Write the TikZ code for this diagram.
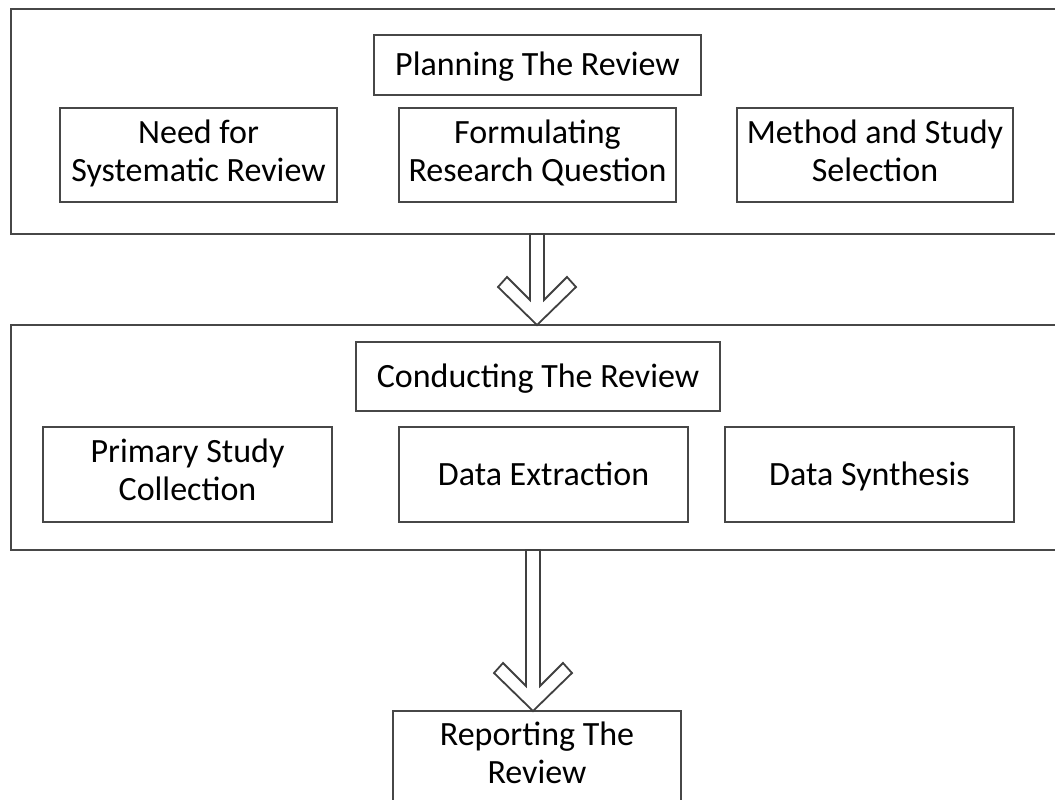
\documentclass[tikz,border=0pt]{standalone}
\usepackage{fontspec}
\setmainfont{Carlito}
\usetikzlibrary{calc}

% fixed line height and depth so capitals sit centred in every box
\newcommand\toprule{\rule{0pt}{30pt}}
\newcommand\botrule{\rule[-9pt]{0pt}{9pt}}

\tikzset{
  frame/.style={draw=black!72, line width=2.4pt, inner sep=0pt, outer sep=0pt},
  stagebox/.style={frame, fill=white, align=center, inner sep=0pt,
    font=\fontsize{34}{38}\selectfont,
    execute at begin node=\toprule, execute at end node=\botrule},
  arrowline/.style={draw=black!75, line width=1.8pt, fill=white, line join=miter},
}

% hollow block arrow from the bottom of #1 down to the top of #2, centred at x = #3
\newcommand\blockarrow[3]{%
  \path[arrowline] let \p1=(#1), \p2=(#2) in
    (#3pt-7pt,\y1) -- (#3pt+7pt,\y1) -- (#3pt+7pt,\y2+25pt)
    -- (#3pt+30pt,\y2+48pt) -- (#3pt+39pt,\y2+38pt) -- (#3pt,\y2)
    -- (#3pt-39pt,\y2+38pt) -- (#3pt-30pt,\y2+48pt) -- (#3pt-7pt,\y2+25pt) -- cycle;}

\begin{document}
\begin{tikzpicture}[x=1pt,y=-1pt]
  \useasboundingbox (0,0) rectangle (1055,800);
  \clip (0,0) rectangle (1055,800);

  % planning stage
  \node[frame, minimum width=1054, minimum height=225] (plan) at (538,121.5) {};
  \node[stagebox, minimum width=327, minimum height=60] (planhead) at (537.5,65) {Planning The Review};
  \node[stagebox, minimum width=277, minimum height=94] (need) at (198.5,155) {Need for\\Systematic Review};
  \node[stagebox, minimum width=277, minimum height=94] (formulate) at (537.5,155) {Formulating\\Research Question};
  \node[stagebox, minimum width=276, minimum height=94] (method) at (875,155) {Method and Study\\Selection};

  % conducting stage
  \node[frame, minimum width=1054, minimum height=225] (cond) at (538,437.5) {};
  \node[stagebox, minimum width=364, minimum height=69] (condhead) at (538,376.5) {Conducting The Review};
  \node[stagebox, minimum width=289, minimum height=95] (primary) at (187.5,474.5) {Primary Study\\Collection};
  \node[stagebox, minimum width=289, minimum height=95] (extract) at (543.5,474.5) {Data Extraction};
  \node[stagebox, minimum width=289, minimum height=95] (synth) at (869.5,474.5) {Data Synthesis};

  % reporting stage
  \node[stagebox, minimum width=288, minimum height=92] (report) at (537,757) {Reporting The\\Review};

  % stage transitions
  \blockarrow{plan.south}{cond.north}{537}
  \blockarrow{cond.south}{report.north}{533}
\end{tikzpicture}
\end{document}
